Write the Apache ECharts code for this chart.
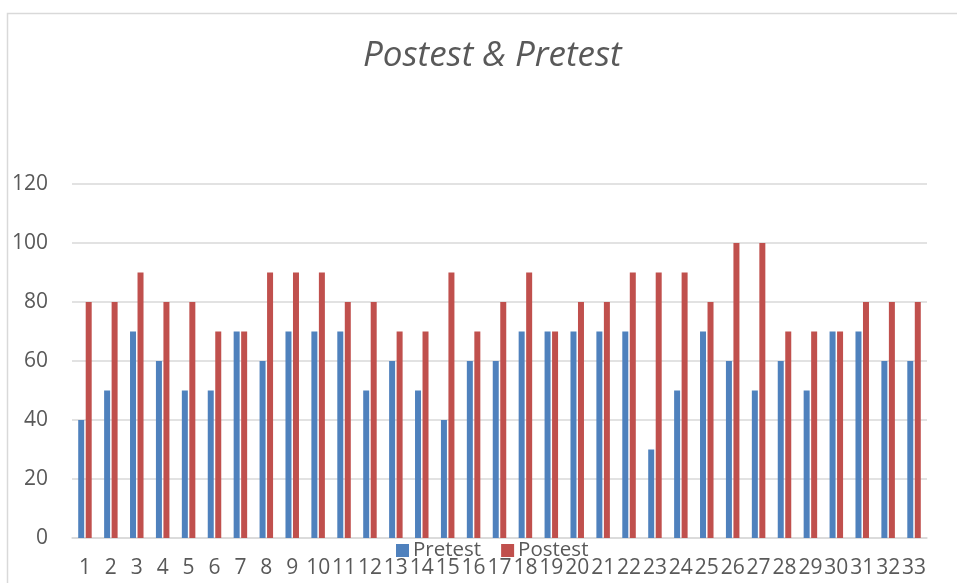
<!DOCTYPE html>
<html>
<head>
<meta charset="utf-8">
<script src="https://cdn.jsdelivr.net/npm/echarts@6/dist/echarts.min.js"></script>
<style>
html,body{margin:0;padding:0;background:#fff;}
#c{width:957px;height:583px;}
</style>
</head>
<body>
<div id="c"></div>
<script>
var categories = ['1','2','3','4','5','6','7','8','9','10','11','12','13','14','15','16','17','18','19','20','21','22','23','24','25','26','27','28','29','30','31','32','33'];
var pretest = [40,50,70,60,50,50,70,60,70,70,70,50,60,50,40,60,60,70,70,70,70,70,30,50,70,60,50,60,50,70,70,60,60];
var postest = [80,80,90,80,80,70,70,90,90,90,80,80,70,70,90,70,80,90,70,80,80,90,90,90,80,100,100,70,70,70,80,80,80];
var yTicks = [0,20,40,60,80,100,120];

var chart = echarts.init(document.getElementById('c'), null, {renderer:'canvas'});
var font = 'Open Sans';
chart.setOption({
  backgroundColor: '#ffffff',
  animation: false,
  graphic: [{
    type: 'rect', left: 5, top: 11, silent: true, z: -10,
    shape: {x: 5.5, y: 11.5, width: 1200, height: 1200},
    style: {fill: 'none', stroke: '#d9d9d9', lineWidth: 1.5}
  }],
  title: {
    text: 'Postest & Pretest',
    left: 358,
    top: 34,
    textStyle: {fontFamily: font, fontStyle: 'italic', fontWeight: 'normal', fontSize: 35, color: '#595959'}
  },
  legend: {
    data: ['Pretest','Postest'],
    left: 391,
    top: 535,
    itemWidth: 13,
    itemHeight: 13,
    itemGap: 20,
    icon: 'rect',
    textStyle: {fontFamily: font, fontSize: 20.5, color: '#595959', padding: [0,0,0,-1]}
  },
  grid: {left: 72, right: 30, top: 184, bottom: 45, containLabel: false},
  xAxis: {
    type: 'category',
    data: categories,
    axisLine: {show: true, lineStyle: {color: '#d9d9d9', width: 1.5}},
    axisTick: {show: false},
    axisLabel: {interval: 0, margin: 20, fontFamily: font, fontSize: 21, color: '#595959'}
  },
  yAxis: {
    type: 'value',
    min: yTicks[0],
    max: yTicks[yTicks.length-1],
    interval: 20,
    axisLine: {show: false},
    axisTick: {show: false},
    splitLine: {lineStyle: {color: '#d9d9d9', width: 1.5}},
    axisLabel: {margin: 24, fontFamily: font, fontSize: 21, color: '#595959'}
  },
  series: [
    {name: 'Pretest', type: 'bar', data: pretest, barWidth: 6, barGap: '25%',
     itemStyle: {color: '#4f81bd'}},
    {name: 'Postest', type: 'bar', data: postest, barWidth: 6, barGap: '25%',
     itemStyle: {color: '#c0504d'}}
  ]
});
</script>
</body>
</html>
